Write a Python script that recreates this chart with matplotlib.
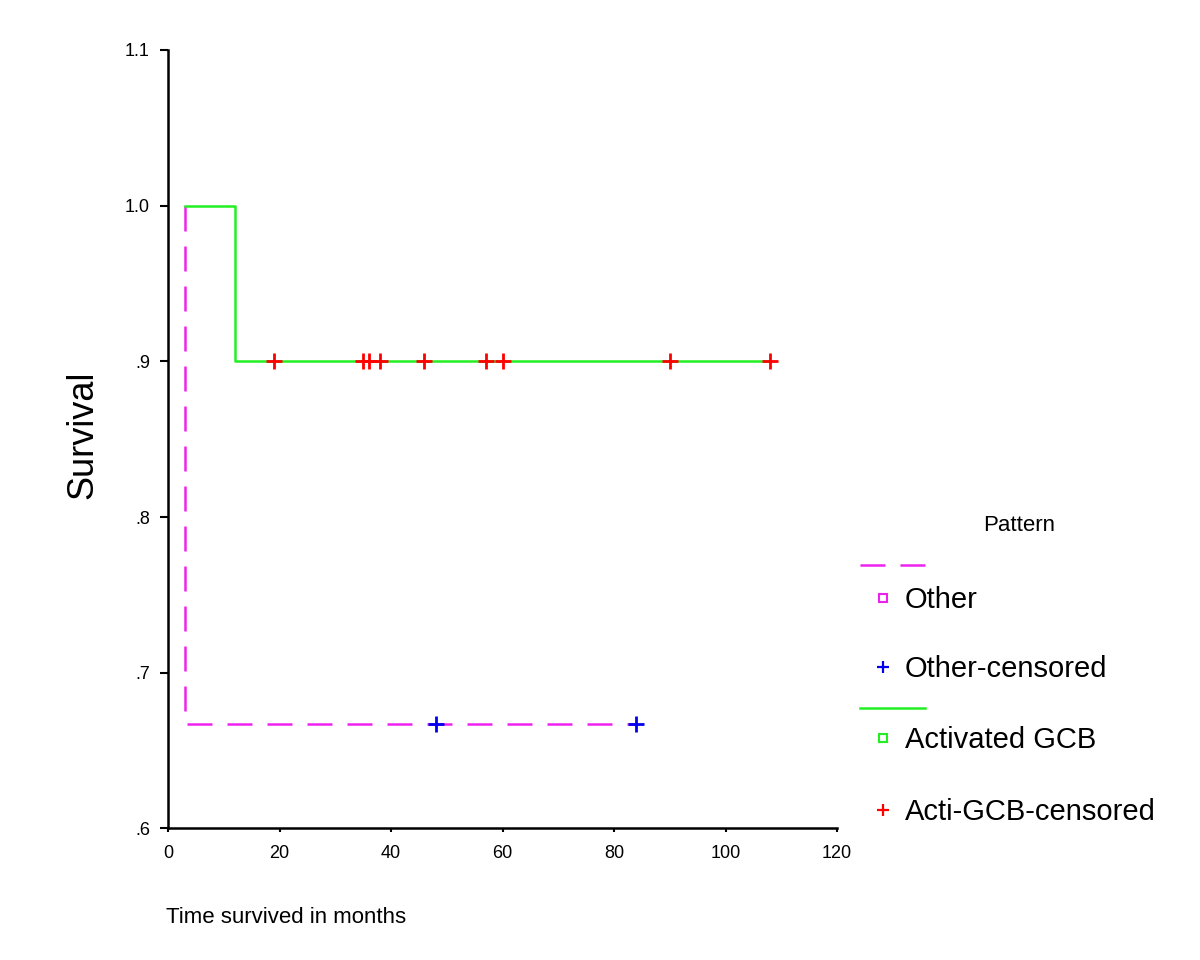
import matplotlib
matplotlib.use("Agg")
import matplotlib.pyplot as plt
from matplotlib.lines import Line2D

plt.rcParams["font.family"] = ["Liberation Sans", "DejaVu Sans"]

# Kaplan-Meier step data
other_times = [3, 3, 84]
other_surv = [1.0, 0.667, 0.667]
other_censored_t = [48, 84]
other_censored_s = [0.667, 0.667]

gcb_times = [3, 12, 12, 108]
gcb_surv = [1.0, 1.0, 0.9, 0.9]
gcb_censored_t = [19, 35, 36, 38, 46, 57, 60, 90, 108]
gcb_censored_s = [0.9] * len(gcb_censored_t)

y_ticks = [0.6, 0.7, 0.8, 0.9, 1.0, 1.1]
y_tick_labels = [".6", ".7", ".8", ".9", "1.0", "1.1"]
x_ticks = [0, 20, 40, 60, 80, 100, 120]

MAGENTA = "#ee22ee"
GREEN = "#22ee22"
RED = "#ff0000"
BLUE = "#0000ee"


def main():
    fig = plt.figure(figsize=(12, 9.6), dpi=100)
    ax = fig.add_axes([0.14, 0.137, 0.5575, 0.811])

    ax.plot(other_times, other_surv, color=MAGENTA, lw=1.8,
            linestyle=(0, (10, 6)))
    ax.plot(gcb_times, gcb_surv, color=GREEN, lw=1.8)
    ax.plot(other_censored_t, other_censored_s, linestyle="none",
            marker="+", markersize=11, mew=2, color=BLUE)
    ax.plot(gcb_censored_t, gcb_censored_s, linestyle="none",
            marker="+", markersize=11, mew=2, color=RED)

    ax.set_xlim(0, 120)
    ax.set_ylim(0.6, 1.1)
    ax.set_xticks(x_ticks)
    ax.set_yticks(y_ticks)
    ax.set_yticklabels(y_tick_labels)
    ax.tick_params(axis="y", labelsize=13, length=6, width=1.5, pad=7)
    ax.tick_params(axis="x", labelsize=13, length=3, width=1.5, pad=9)

    for side in ["top", "right"]:
        ax.spines[side].set_visible(False)
    for side in ["left", "bottom"]:
        ax.spines[side].set_linewidth(1.8)

    fig.text(0.069, 0.547, "Survival", fontsize=26, rotation=90,
             ha="center", va="center")
    fig.text(0.138, 0.044, "Time survived in months", fontsize=16,
             ha="left", va="center")

    # legend drawn by hand, as in the original
    fig.text(0.849, 0.453, "Pattern", fontsize=16, ha="center", va="center")
    fig.add_artist(Line2D([0.717, 0.771], [0.411, 0.411],
                          transform=fig.transFigure, color=MAGENTA, lw=1.8,
                          linestyle=(0, (10, 6))))
    fig.add_artist(Line2D([0.717, 0.771], [0.262, 0.262],
                          transform=fig.transFigure, color=GREEN, lw=1.8))

    entries = [
        (0.375, "s", MAGENTA, "Other"),
        (0.303, "+", BLUE, "Other-censored"),
        (0.229, "s", GREEN, "Activated GCB"),
        (0.154, "+", RED, "Acti-GCB-censored"),
    ]
    for y, marker, color, label in entries:
        if marker == "s":
            fig.add_artist(Line2D([0.736], [y + 0.002],
                                  transform=fig.transFigure, marker="s",
                                  markersize=6, mfc="none", mec=color,
                                  mew=1.5, linestyle="none"))
        else:
            fig.add_artist(Line2D([0.736], [y + 0.002],
                                  transform=fig.transFigure, marker="+",
                                  markersize=9, mec=color, mew=1.6,
                                  linestyle="none"))
        fig.text(0.754, y, label, fontsize=21, ha="left", va="center")

    fig.savefig("out.png", dpi=100)
    plt.close(fig)


if __name__ == "__main__":
    main()
